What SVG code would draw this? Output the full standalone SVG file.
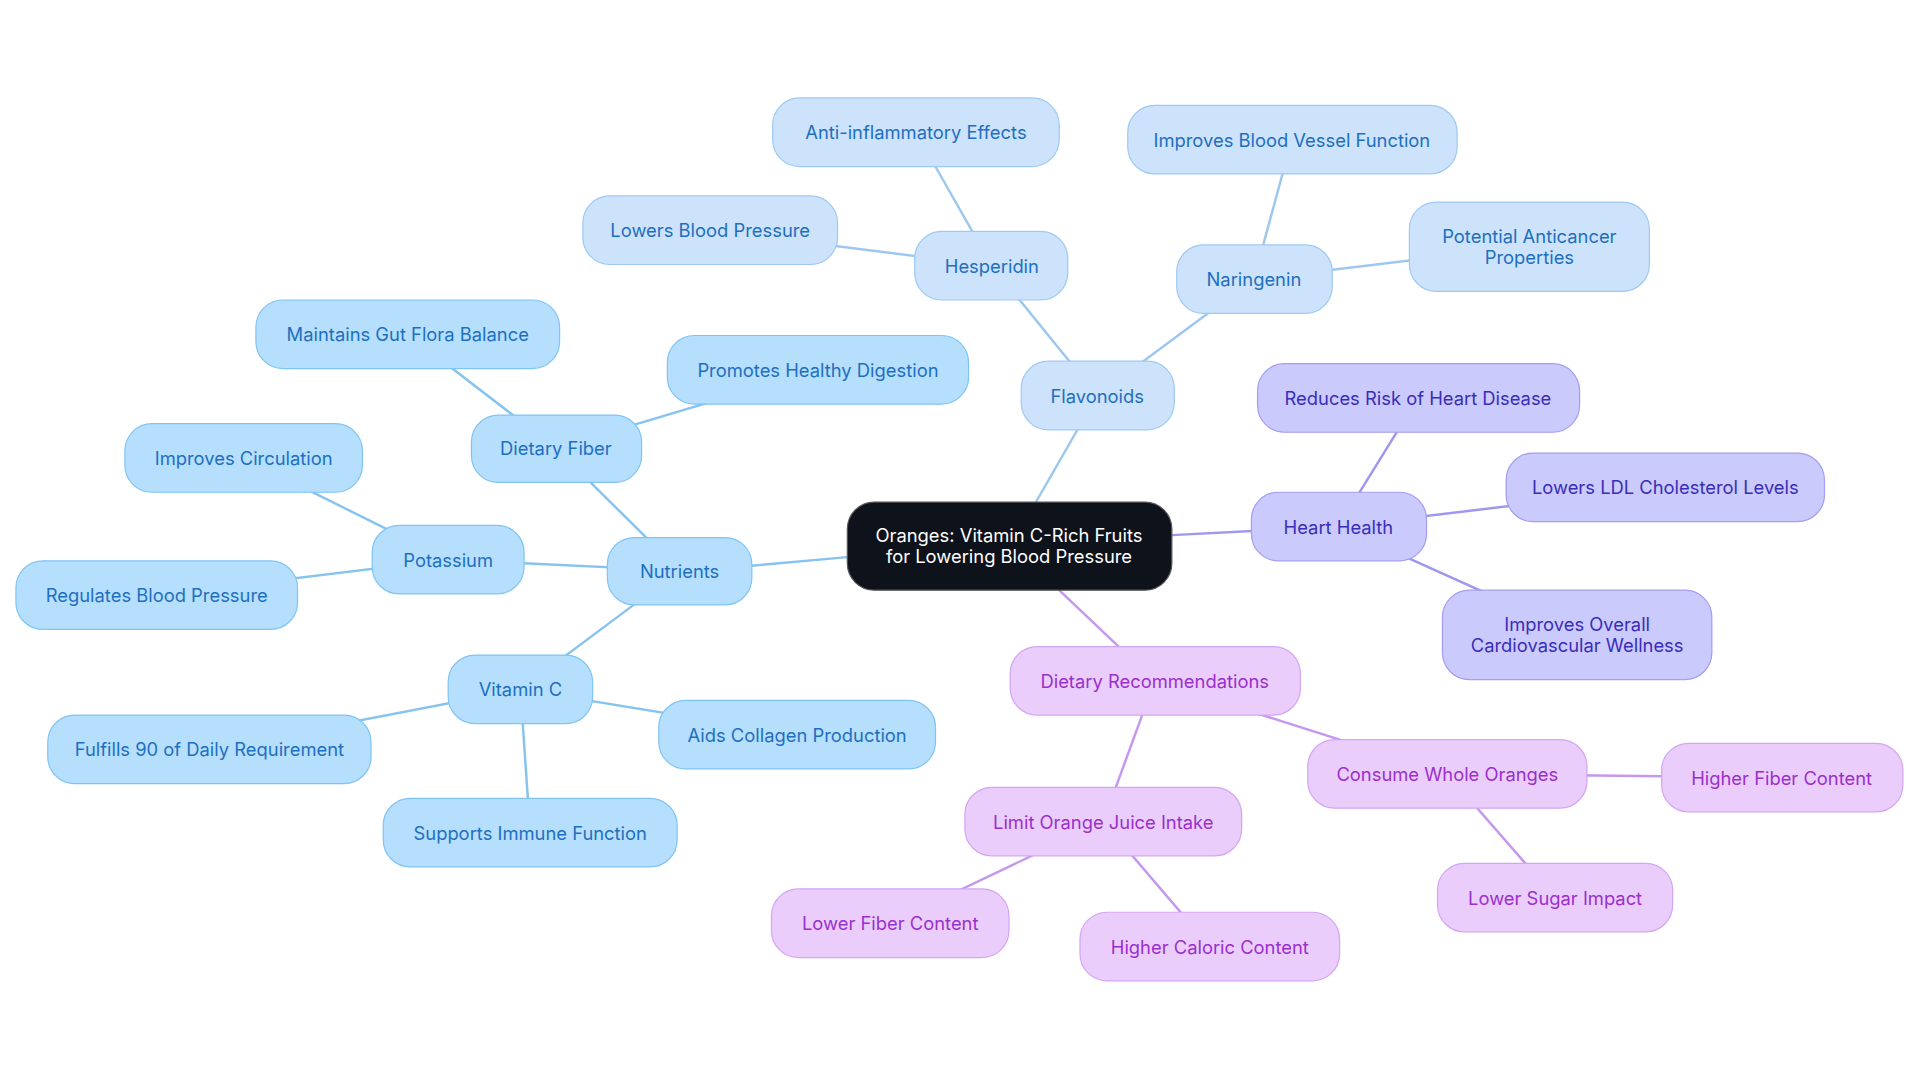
<svg xmlns="http://www.w3.org/2000/svg" width="1920" height="1083" viewBox="0 0 1920 1083">
<style>
text{font-family:Inter,"Noto Sans",sans-serif;font-size:15px;text-anchor:middle;dominant-baseline:central}
.b rect{fill:#b5dffd;stroke:#80c4f4;stroke-width:1}.b text{fill:#1f6fc0}
.f rect{fill:#cce3fb;stroke:#9fc9f2;stroke-width:1}.f text{fill:#1f6fc0}
.h rect{fill:#cacafc;stroke:#a49df3;stroke-width:1}.h text{fill:#3a2eb8}
.p rect{fill:#ebcdfc;stroke:#d3a5f3;stroke-width:1}.p text{fill:#9a30cc}
.c rect{fill:#0d121b;stroke:#555;stroke-width:1}.c text{fill:#fff}
#edges line{stroke-width:2}
.eb{stroke:#86c3ef}.ef{stroke:#9cc8f0}.eh{stroke:#9e97ee}.ep{stroke:#c597ee}
</style>
<rect width="1920" height="1083" fill="#fff"/>
<g transform="scale(1.22449)">
<g id="edges">
<line class="eb" x1="692" y1="455" x2="614" y2="462"/>
<line class="eb" x1="555" y1="466" x2="454" y2="366"/>
<line class="eb" x1="555" y1="466" x2="366" y2="457"/>
<line class="eb" x1="555" y1="466" x2="425" y2="563"/>
<line class="eb" x1="454" y1="366" x2="333" y2="273"/>
<line class="eb" x1="454" y1="366" x2="668" y2="302"/>
<line class="eb" x1="366" y1="457" x2="199" y2="374"/>
<line class="eb" x1="366" y1="457" x2="128" y2="486"/>
<line class="eb" x1="425" y1="563" x2="171" y2="612"/>
<line class="eb" x1="425" y1="563" x2="651" y2="600"/>
<line class="eb" x1="425" y1="563" x2="433" y2="680"/>
<line class="ef" x1="846" y1="410" x2="896" y2="323"/>
<line class="ef" x1="896" y1="323" x2="810" y2="217"/>
<line class="ef" x1="896" y1="323" x2="1024" y2="228"/>
<line class="ef" x1="810" y1="217" x2="748" y2="108"/>
<line class="ef" x1="810" y1="217" x2="580" y2="188"/>
<line class="ef" x1="1024" y1="228" x2="1055" y2="114"/>
<line class="ef" x1="1024" y1="228" x2="1249" y2="201"/>
<line class="eh" x1="957" y1="437" x2="1093" y2="430"/>
<line class="eh" x1="1093" y1="430" x2="1158" y2="325"/>
<line class="eh" x1="1093" y1="430" x2="1360" y2="398"/>
<line class="eh" x1="1093" y1="430" x2="1288" y2="518"/>
<line class="ep" x1="865" y1="482" x2="943" y2="556"/>
<line class="ep" x1="943" y1="556" x2="1182" y2="632"/>
<line class="ep" x1="943" y1="556" x2="901" y2="671"/>
<line class="ep" x1="1182" y1="632" x2="1455" y2="635"/>
<line class="ep" x1="1182" y1="632" x2="1270" y2="733"/>
<line class="ep" x1="901" y1="671" x2="727" y2="754"/>
<line class="ep" x1="901" y1="671" x2="988" y2="773"/>
</g>
<g id="center" class="c"><rect x="692" y="410" width="265" height="72" rx="22"/><text x="824" y="437">Oranges: Vitamin C-Rich Fruits</text><text x="824" y="454">for Lowering Blood Pressure</text></g>
<g id="nutrients" class="b"><rect x="496" y="439" width="118" height="55" rx="22"/><text x="555" y="466">Nutrients</text></g>
<g id="fiber" class="b"><rect x="385" y="339" width="139" height="55" rx="22"/><text x="454" y="366">Dietary Fiber</text></g>
<g id="potassium" class="b"><rect x="304" y="429" width="124" height="56" rx="22"/><text x="366" y="457">Potassium</text></g>
<g id="vitc" class="b"><rect x="366" y="535" width="118" height="56" rx="22"/><text x="425" y="563">Vitamin C</text></g>
<g id="gut" class="b"><rect x="209" y="245" width="248" height="56" rx="22"/><text x="333" y="273">Maintains Gut Flora Balance</text></g>
<g id="digest" class="b"><rect x="545" y="274" width="246" height="56" rx="22"/><text x="668" y="302">Promotes Healthy Digestion</text></g>
<g id="circ" class="b"><rect x="102" y="346" width="194" height="56" rx="22"/><text x="199" y="374">Improves Circulation</text></g>
<g id="regbp" class="b"><rect x="13" y="458" width="230" height="56" rx="22"/><text x="128" y="486">Regulates Blood Pressure</text></g>
<g id="daily" class="b"><rect x="39" y="584" width="264" height="56" rx="22"/><text x="171" y="612">Fulfills 90 of Daily Requirement</text></g>
<g id="collagen" class="b"><rect x="538" y="572" width="226" height="56" rx="22"/><text x="651" y="600">Aids Collagen Production</text></g>
<g id="immune" class="b"><rect x="313" y="652" width="240" height="56" rx="22"/><text x="433" y="680">Supports Immune Function</text></g>
<g id="flavonoids" class="f"><rect x="834" y="295" width="125" height="56" rx="22"/><text x="896" y="323">Flavonoids</text></g>
<g id="hesperidin" class="f"><rect x="747" y="189" width="125" height="56" rx="22"/><text x="810" y="217">Hesperidin</text></g>
<g id="naringenin" class="f"><rect x="961" y="200" width="127" height="56" rx="22"/><text x="1024" y="228">Naringenin</text></g>
<g id="antiinf" class="f"><rect x="631" y="80" width="234" height="56" rx="22"/><text x="748" y="108">Anti-inflammatory Effects</text></g>
<g id="lowbp" class="f"><rect x="476" y="160" width="208" height="56" rx="22"/><text x="580" y="188">Lowers Blood Pressure</text></g>
<g id="vessel" class="f"><rect x="921" y="86" width="269" height="56" rx="22"/><text x="1055" y="114">Improves Blood Vessel Function</text></g>
<g id="cancer" class="f"><rect x="1151" y="165" width="196" height="73" rx="22"/><text x="1249" y="193">Potential Anticancer</text><text x="1249" y="210">Properties</text></g>
<g id="heart" class="h"><rect x="1022" y="402" width="143" height="56" rx="22"/><text x="1093" y="430">Heart Health</text></g>
<g id="risk" class="h"><rect x="1027" y="297" width="263" height="56" rx="22"/><text x="1158" y="325">Reduces Risk of Heart Disease</text></g>
<g id="ldl" class="h"><rect x="1230" y="370" width="260" height="56" rx="22"/><text x="1360" y="398">Lowers LDL Cholesterol Levels</text></g>
<g id="cardio" class="h"><rect x="1178" y="482" width="220" height="73" rx="22"/><text x="1288" y="510">Improves Overall</text><text x="1288" y="527">Cardiovascular Wellness</text></g>
<g id="diet" class="p"><rect x="825" y="528" width="237" height="56" rx="22"/><text x="943" y="556">Dietary Recommendations</text></g>
<g id="whole" class="p"><rect x="1068" y="604" width="228" height="56" rx="22"/><text x="1182" y="632">Consume Whole Oranges</text></g>
<g id="juice" class="p"><rect x="788" y="643" width="226" height="56" rx="22"/><text x="901" y="671">Limit Orange Juice Intake</text></g>
<g id="hifiber" class="p"><rect x="1357" y="607" width="197" height="56" rx="22"/><text x="1455" y="635">Higher Fiber Content</text></g>
<g id="sugar" class="p"><rect x="1174" y="705" width="192" height="56" rx="22"/><text x="1270" y="733">Lower Sugar Impact</text></g>
<g id="lofiber" class="p"><rect x="630" y="726" width="194" height="56" rx="22"/><text x="727" y="754">Lower Fiber Content</text></g>
<g id="caloric" class="p"><rect x="882" y="745" width="212" height="56" rx="22"/><text x="988" y="773">Higher Caloric Content</text></g>
</g>
</svg>
